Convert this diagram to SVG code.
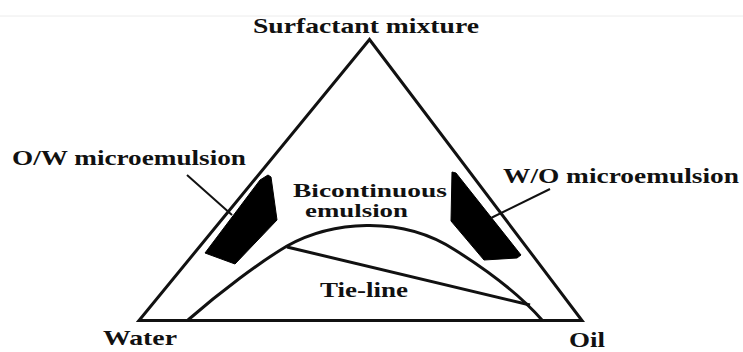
<svg xmlns="http://www.w3.org/2000/svg" width="743" height="352" viewBox="0 0 743 352">
<style>
.t{font-family:"Liberation Serif","Times New Roman",serif;font-weight:bold;fill:#111;}
.ln{fill:none;stroke:#111;stroke-width:3;stroke-linejoin:miter;}
.thin{fill:none;stroke:#111;stroke-width:2;}
.reg{fill:#000;stroke:#000;stroke-width:1;stroke-linejoin:round;}
</style>
<rect width="743" height="352" fill="#fff"/>
<line x1="0" y1="16" x2="743" y2="16" stroke="#ececec" stroke-width="1"/>
<g id="triangle">
<polygon class="ln" points="369.5,39.5 139,320.5 582,320.5"/>
</g>
<g id="ow-region">
<polygon class="reg" points="260,180 268,175 271,177 277,220 235,264 205,253"/>
</g>
<g id="wo-region">
<polygon class="reg" points="452,172 456,173 521,255 517,258 484,260 451,221"/>
</g>
<g id="connectors">
<path class="ln" d="M188,320 C220,292 260,262 287,246 C330,222 400,214 455,250 C490,272 520,295 542,320"/>
<line class="ln" x1="287" y1="247" x2="530" y2="305"/>
<line class="thin" x1="187" y1="175" x2="232" y2="215"/>
<line class="thin" x1="550" y1="189" x2="491" y2="218"/>
</g>
<g id="labels">
<text class="t" x="253" y="33" font-size="22" textLength="226" lengthAdjust="spacingAndGlyphs">Surfactant mixture</text>
<text class="t" x="12" y="165" font-size="21" textLength="234" lengthAdjust="spacingAndGlyphs">O/W microemulsion</text>
<text class="t" x="503" y="183" font-size="21" textLength="236" lengthAdjust="spacingAndGlyphs">W/O microemulsion</text>
<text class="t" x="293" y="197" font-size="18" textLength="154" lengthAdjust="spacingAndGlyphs">Bicontinuous</text>
<text class="t" x="305" y="217" font-size="18" textLength="103" lengthAdjust="spacingAndGlyphs">emulsion</text>
<text class="t" x="320" y="297" font-size="20" textLength="88" lengthAdjust="spacingAndGlyphs">Tie-line</text>
<text class="t" x="103" y="345" font-size="21" textLength="74" lengthAdjust="spacingAndGlyphs">Water</text>
<text class="t" x="569" y="347" font-size="21" textLength="36" lengthAdjust="spacingAndGlyphs">Oil</text>
</g>
</svg>
